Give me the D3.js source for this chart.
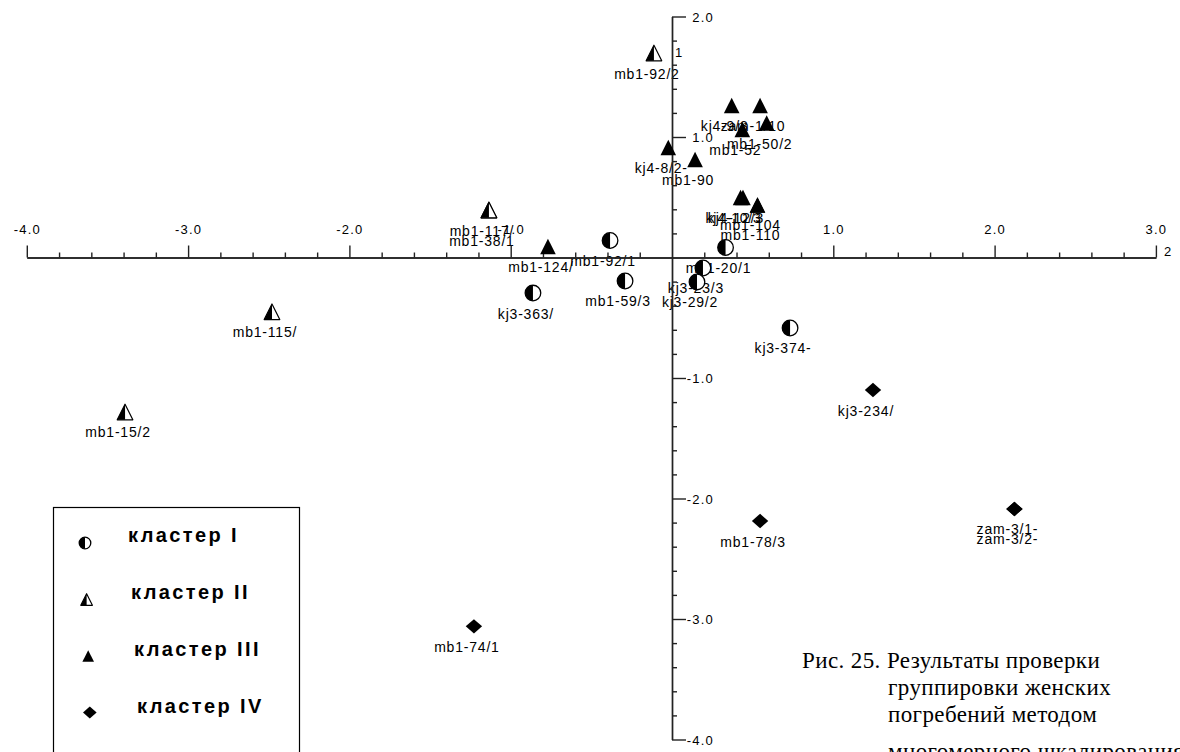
<!DOCTYPE html>
<html>
<head>
<meta charset="utf-8">
<script src="https://cdn.jsdelivr.net/npm/d3@7/dist/d3.min.js"></script>
<style>
  html, body { margin: 0; padding: 0; background: #fff; overflow: hidden; }
  svg { display: block; }
  .pt-label { font-family: "Liberation Sans", Arial, sans-serif; font-size: 14px; letter-spacing: 0.8px; fill: #000; }
  .tick-label { font-family: "Liberation Sans", Arial, sans-serif; font-size: 13px; letter-spacing: 1.2px; fill: #000; }
  .legend-label { font-family: "Liberation Sans", Arial, sans-serif; font-size: 20px; font-weight: bold; letter-spacing: 2.4px; fill: #000; }
  .caption { font-family: "Liberation Serif", "Times New Roman", serif; font-size: 23px; letter-spacing: 0.4px; fill: #000; }
</style>
</head>
<body>
<svg id="chart" width="1180" height="752"></svg>
<script>
// ---- data ----
const clusterNames = ["кластер I", "кластер II", "кластер III", "кластер IV"]

const pointLabels = [
  "mb1-92/1", "mb1-59/3", "kj3-363/", "mb1-20/1", "kj3-23/3", "kj3-29/2", "kj3-374-",
  "mb1-92/2", "mb1-117/", "mb1-38/1", "mb1-115/", "mb1-15/2",
  "kj4-9/3", "zam-1/10", "mb1-52", "mb1-50/2", "kj4-8/2-", "mb1-90",
  "kj4-12/3", "kj4-10/3", "mb1-104", "mb1-110", "mb1-124/",
  "kj3-234/", "mb1-78/3", "zam-3/1-", "zam-3/2-", "mb1-74/1"
]
const pointX = [
  -0.384, -0.291, -0.862, 0.332, 0.192, 0.155, 0.732,
  -0.112, -1.135, -1.135, -2.480, -3.391,
  0.370, 0.546, 0.436, 0.587, -0.023, 0.143,
  0.440, 0.425, 0.530, 0.530, -0.769,
  1.246, 0.546, 2.123, 2.123, -1.228
]
const pointY = [
  0.141, -0.195, -0.295, 0.083, -0.087, -0.203, -0.585,
  1.697, 0.394, 0.394, -0.450, -1.282,
  1.261, 1.261, 1.062, 1.116, 0.913, 0.813,
  0.498, 0.498, 0.436, 0.436, 0.091,
  -1.100, -2.187, -2.087, -2.087, -3.061
]
const pointCluster = [
  0, 0, 0, 0, 0, 0, 0,
  1, 1, 1, 1, 1,
  2, 2, 2, 2, 2, 2, 2, 2, 2, 2, 2,
  3, 3, 3, 3, 3
]

const xTickValues = [-4, -3, -2, -1, 1, 2, 3]
const yTickValues = [2, 1, -1, -2, -3, -4]
const xAxisTitle = "2"
const yAxisTitle = "1"
const yAxisTitleAt = 1.7

const captionLines = [
  "Рис. 25. Результаты проверки",
  "группировки женских",
  "погребений методом",
  "многомерного шкалирования"
]

// ---- layout ----
const config = {
  width: 1180,
  height: 752,
  xRange: [26.8, 1155.9],
  yRange: [16.5, 739.5],
  majorTick: 12,
  minorTick: 5,
  labelDx: -7,
  labelDy: 25.5,
  stackGap: 10
}

const svg = d3.select("#chart")
svg.append("rect").attr("width", config.width).attr("height", config.height).attr("fill", "#fff")

const x = d3.scaleLinear().domain([-4, 3]).range(config.xRange)
const y = d3.scaleLinear().domain([2, -4]).range(config.yRange)

// plain hyphen for negatives, as in the original
const tickFormat = d => d.toFixed(1)

const points = pointLabels.map((label, i) => ({
  label,
  x: pointX[i],
  y: pointY[i],
  cluster: pointCluster[i]
}))

// coincident points get their labels stacked below each other
points.forEach((p, i) => {
  p.stack = points.slice(0, i).filter(q => q.x === p.x && q.y === p.y).length
})

function drawSymbol (g, cluster, s) {
  if (cluster === 0) {
    g.append("circle")
      .attr("r", s)
      .attr("fill", "#fff")
      .attr("stroke", "#000")
      .attr("stroke-width", 1.3)
    g.append("path")
      .attr("d", `M0,${-s}A${s},${s} 0 0 0 0,${s}Z`)
      .attr("fill", "#000")
  } else if (cluster === 1) {
    g.append("path")
      .attr("d", `M0,${-s}L${s},${s}L${-s},${s}Z`)
      .attr("fill", "#fff")
      .attr("stroke", "#000")
      .attr("stroke-width", 1.2)
      .attr("stroke-linejoin", "round")
    g.append("path")
      .attr("d", `M0,${-s}L0,${s}L${-s},${s}Z`)
      .attr("fill", "#000")
  } else if (cluster === 2) {
    g.append("path")
      .attr("d", `M0,${-s}L${s},${s}L${-s},${s}Z`)
      .attr("fill", "#000")
  } else {
    const h = s * 0.92
    g.append("path")
      .attr("d", `M0,${-h}L${s * 1.05},0L0,${h}L${-s * 1.05},0Z`)
      .attr("fill", "#000")
  }
}

// ---- point labels (under everything else) ----
svg.append("g")
  .selectAll("text")
  .data(points)
  .join("text")
    .attr("class", "pt-label")
    .attr("text-anchor", "middle")
    .attr("x", d => x(d.x) + config.labelDx)
    .attr("y", d => y(d.y) + config.labelDy + d.stack * config.stackGap)
    .text(d => d.label)

// ---- axes ----
const minorX = d3.range(-20, 16).filter(i => i % 5 !== 0).map(i => i / 5)
const minorY = d3.range(-20, 11).filter(i => i % 5 !== 0).map(i => i / 5)

function styleAxis (g) {
  g.attr("font-family", null).attr("font-size", null)
  g.selectAll("path, line").attr("stroke", "#222").attr("stroke-width", 1.4)
}

const xAxisG = svg.append("g").attr("transform", `translate(0,${y(0)})`)
xAxisG.append("g")
  .call(d3.axisTop(x).tickValues(minorX).tickSize(config.minorTick).tickSizeOuter(0).tickFormat(""))
  .call(styleAxis)
xAxisG.append("g")
  .call(d3.axisTop(x).tickValues(xTickValues).tickSize(config.majorTick).tickSizeOuter(0)
    .tickPadding(12).tickFormat(tickFormat))
  .call(styleAxis)
  .call(g => g.selectAll("text").attr("class", "tick-label"))
xAxisG.append("text")
  .attr("class", "tick-label")
  .attr("x", x(3) + 8)
  .attr("y", -2)
  .text(xAxisTitle)

const yAxisG = svg.append("g").attr("transform", `translate(${x(0)},0)`)
yAxisG.append("g")
  .call(d3.axisRight(y).tickValues(minorY).tickSize(config.minorTick).tickSizeOuter(0).tickFormat(""))
  .call(styleAxis)
yAxisG.append("g")
  .call(d3.axisRight(y).tickValues(yTickValues).tickSize(14).tickSizeOuter(0)
    .tickFormat(tickFormat))
  .call(styleAxis)
  .call(g => g.selectAll("text")
    .attr("class", "tick-label")
    .attr("text-anchor", "end")
    .attr("x", 42)
    .attr("dy", "0.36em"))
yAxisG.append("text")
  .attr("class", "tick-label")
  .attr("x", 3)
  .attr("y", y(yAxisTitleAt))
  .attr("dy", "0.36em")
  .text(yAxisTitle)

// ---- markers ----
svg.append("g")
  .selectAll("g")
  .data(points)
  .join("g")
    .attr("transform", d => `translate(${x(d.x)},${y(d.y)})`)
    .each(function (d) {
      drawSymbol(d3.select(this), d.cluster, 7.8)
    })

// ---- legend ----
const legend = svg.append("g")
legend.append("rect")
  .attr("x", 53.5)
  .attr("y", 507.5)
  .attr("width", 246)
  .attr("height", 260)
  .attr("fill", "#fff")
  .attr("stroke", "#000")
  .attr("stroke-width", 1.2)

legend.selectAll("g.item")
  .data(clusterNames)
  .join("g")
    .attr("class", "item")
    .each(function (name, i) {
      const g = d3.select(this)
      const sym = g.append("g")
        .attr("transform", `translate(${85 + i * 1.6},${543 + i * 56.5})`)
      drawSymbol(sym, i, i === 3 ? 6.5 : 5.8)
      g.append("text")
        .attr("class", "legend-label")
        .attr("x", 128 + i * 3)
        .attr("y", 542 + i * 57)
        .text(name)
    })

// ---- caption (last line is cut by the bottom edge, as in the scan) ----
svg.append("g")
  .selectAll("text")
  .data(captionLines)
  .join("text")
    .attr("class", "caption")
    .attr("x", (d, i) => i === 0 ? 802 : 888)
    .attr("y", (d, i) => i < 3 ? 668 + i * 27 : 759)
    .text(d => d)
</script>
</body>
</html>
